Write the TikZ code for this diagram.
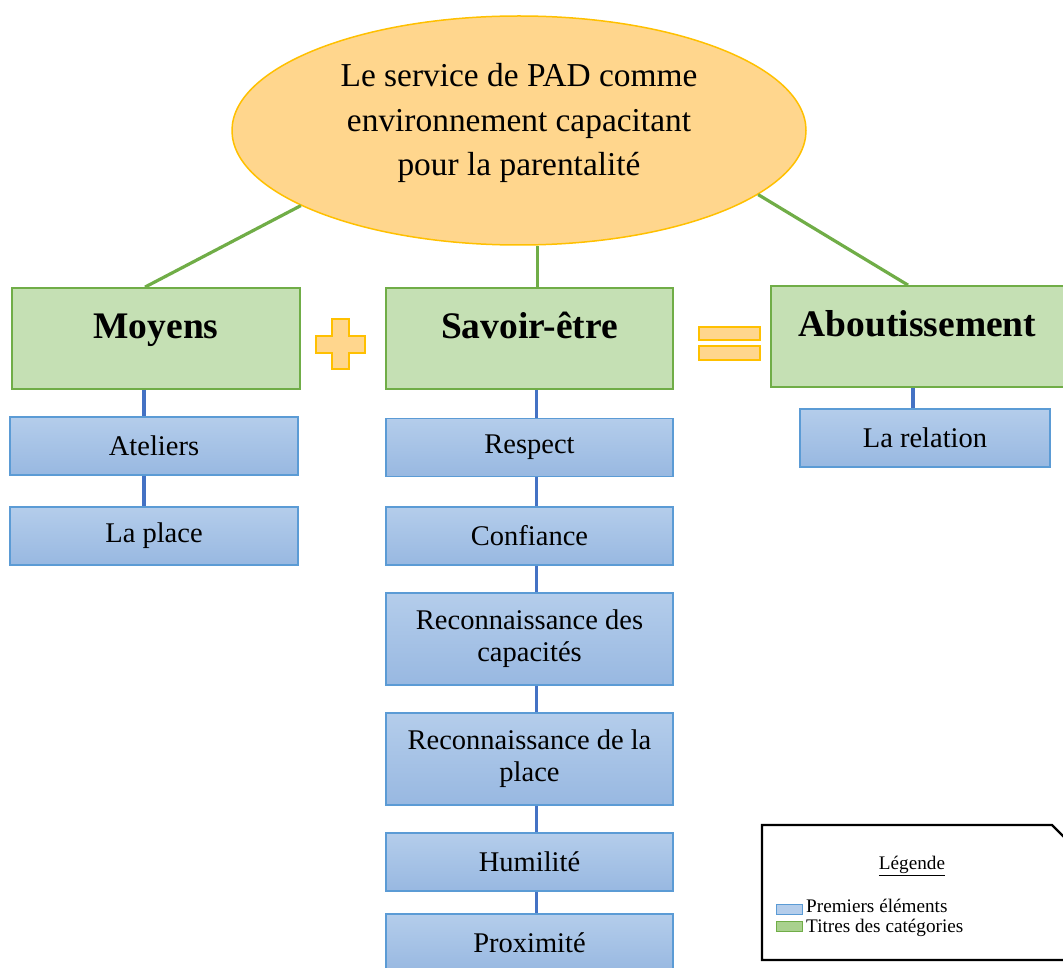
\documentclass[tikz,border=0pt]{standalone}
\usepackage{fontspec}
\setmainfont{Liberation Serif}
\usepackage{tikz}
\usetikzlibrary{shapes.geometric}

\definecolor{ovalfill}{HTML}{FFD68D}
\definecolor{ovalline}{HTML}{FFC000}
\definecolor{titlefill}{HTML}{C5E0B4}
\definecolor{titleline}{HTML}{70AD47}
\definecolor{swatchgreen}{HTML}{A9D18E}
\definecolor{itemtop}{HTML}{B4CDEB}
\definecolor{itembot}{HTML}{98B8E1}
\definecolor{itemline}{HTML}{5B9BD5}
\definecolor{linkblue}{HTML}{4472C4}

\begin{document}
\begin{tikzpicture}[x=1pt, y=-1pt,
	oval/.style={ellipse, draw=ovalline, fill=ovalfill, line width=1.5pt, minimum width=574pt, minimum height=229pt, inner sep=0pt},
	title/.style={rectangle, draw=titleline, fill=titlefill, line width=1.8pt, minimum width=288pt, minimum height=101pt, inner sep=0pt, font=\fontsize{37.5}{40}\selectfont\bfseries, text height=12pt, text depth=12pt},
	item/.style={rectangle, draw=itemline, top color=itemtop, bottom color=itembot, line width=1.6pt, minimum width=288pt, minimum height=58pt, inner sep=0pt, align=center, font=\fontsize{28.5}{32}\selectfont},
	tall/.style={item, minimum height=92pt},
	trunk/.style={draw=titleline, line width=3.2pt},
	link/.style={draw=linkblue, line width=3.2pt},
	sign/.style={draw=ovalline, fill=ovalfill, line width=1.5pt},
	legtext/.style={font=\fontsize{19.2}{22}\selectfont, inner sep=0pt}
	]
	\useasboundingbox (0,0) rectangle (1063,968);
	% Top of the map:
	\node[oval] (root) at (519,130.5) {};
	\node[align=center, font=\fontsize{33.4}{44.5}\selectfont] (roottext) at (519,123) {Le service de PAD comme\\environnement capacitant\\pour la parentalité};
	% Categories:
	\node[title] (moyens) at (156,338.5) {Moyens};
	\node[title, minimum width=287pt] (savoir) at (529.5,338.5) {Savoir-être};
	\node[title, minimum width=293pt] (abouti) at (917.5,336.5) {Aboutissement};
	% Plus and equal signs:
	\draw[sign] (332,319) -- (349,319) -- (349,336) -- (365,336) -- (365,353) -- (349,353) -- (349,369) -- (332,369) -- (332,353) -- (316,353) -- (316,336) -- (332,336) -- cycle;
	\draw[sign] (699,327) rectangle (760,340);
	\draw[sign] (699,346) rectangle (760,360);
	% Elements:
	\node[item] (ateliers) at (154,446) {Ateliers};
	\node[item] (laplace) at (154,536) {La place};
	\node[item, minimum width=287pt] (respect) at (529.5,447.5) {Respect};
	\node[item, minimum width=287pt] (confiance) at (529.5,536) {Confiance};
	\node[tall, minimum width=287pt] (capacites) at (529.5,639) {Reconnaissance des\\capacités};
	\node[tall, minimum width=287pt] (recplace) at (529.5,759) {Reconnaissance de la\\place};
	\node[item, minimum width=287pt] (humilite) at (529.5,862) {Humilité};
	\node[item, minimum width=287pt] (proximite) at (529.5,943) {Proximité};
	\node[item, minimum width=250pt] (relation) at (925,438) {La relation};
	% Wires:
	\draw[trunk] (root.199) -- ([xshift=-11pt]moyens.north);
	\draw[trunk] (root.279) -- (root.279 |- savoir.north);
	\draw[trunk] (root.345) -- ([xshift=-9.5pt]abouti.north);
	\foreach \a/\b/\s in {moyens/ateliers/-12, ateliers/laplace/-10, savoir/respect/7, respect/confiance/7, confiance/capacites/7, capacites/recplace/7, recplace/humilite/7, humilite/proximite/7, abouti/relation/-4.5}
		\draw[link] ([xshift=\s pt]\a.south) -- ([xshift=\s pt]\a.south |- \b.north);
	% Legend:
	\draw[line width=2.4pt] (762,825) -- (1052,825) -- (1075,848) -- (1075,960) -- (762,960) -- cycle;
	\node[legtext] (legtitle) at (912,866) {\underline{Légende}};
	\node[rectangle, draw=itemline, fill=itemtop, minimum width=26pt, minimum height=10pt, inner sep=0pt] (swblue) at (789,909) {};
	\node[rectangle, draw=titleline, fill=swatchgreen, minimum width=26pt, minimum height=10pt, inner sep=0pt] (swgreen) at (789,926.5) {};
	\node[legtext, anchor=base west] (lgblue) at (806,912) {Premiers éléments};
	\node[legtext, anchor=base west] (lggreen) at (806,932) {Titres des catégories};
\end{tikzpicture}
\end{document}
